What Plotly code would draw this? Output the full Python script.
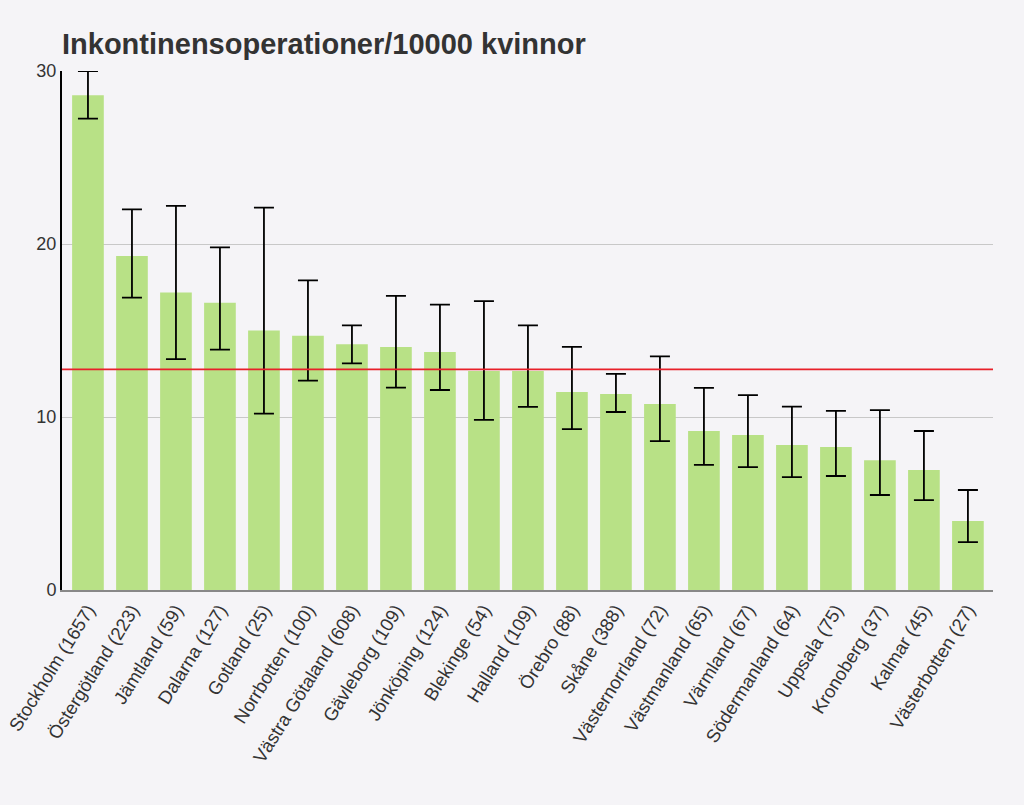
import plotly.graph_objects as go

categories = ["Stockholm (1657)", "Östergötland (223)", "Jämtland (59)", "Dalarna (127)",
              "Gotland (25)", "Norrbotten (100)", "Västra Götaland (608)", "Gävleborg (109)",
              "Jönköping (124)", "Blekinge (54)", "Halland (109)", "Örebro (88)",
              "Skåne (388)", "Västernorrland (72)", "Västmanland (65)", "Värmland (67)",
              "Södermanland (64)", "Uppsala (75)", "Kronoberg (37)", "Kalmar (45)",
              "Västerbotten (27)"]
values = [28.6, 19.3, 17.2, 16.6, 15.0, 14.7, 14.2, 14.05, 13.76, 12.66, 12.66, 11.45,
          11.33, 10.75, 9.19, 8.96, 8.38, 8.27, 7.5, 6.94, 3.99]
upper = [30.0, 22.0, 22.2, 19.8, 22.1, 17.9, 15.3, 17.0, 16.5, 16.7, 15.3, 14.05,
         12.49, 13.5, 11.68, 11.27, 10.6, 10.35, 10.4, 9.19, 5.78]
lower = [27.25, 16.9, 13.35, 13.9, 10.2, 12.1, 13.1, 11.7, 11.56, 9.83, 10.58, 9.3,
         10.29, 8.6, 7.23, 7.1, 6.53, 6.59, 5.49, 5.2, 2.77]
national_avg = 12.75

err_plus = [u - v for u, v in zip(upper, values)]
err_minus = [v - l for v, l in zip(values, lower)]

BG = "#f5f4f7"

fig = go.Figure()
fig.add_trace(go.Bar(
    x=categories, y=values,
    marker=dict(color="#b8e186", line=dict(width=0)),
    width=0.72,
    error_y=dict(type="data", symmetric=False, array=err_plus, arrayminus=err_minus,
                 color="black", thickness=1.8, width=10),
    showlegend=False,
))
fig.add_shape(type="line", xref="paper", x0=0, x1=1, yref="y", y0=national_avg, y1=national_avg,
              line=dict(color="#e8202a", width=1.6), layer="above")

fig.update_layout(
    width=1024, height=805,
    paper_bgcolor=BG, plot_bgcolor=BG,
    margin=dict(l=62, r=31, t=71, b=215, autoexpand=False),
    title=dict(text="<b>Inkontinensoperationer/10000 kvinnor</b>", x=62 / 1024, xanchor="left",
               xref="container", y=1 - 44 / 805, yanchor="middle",
               font=dict(family="Liberation Sans, Arial", size=29, color="#333333")),
    font=dict(family="Liberation Sans, Arial", size=18, color="#333333"),
)
fig.update_xaxes(tickangle=-58, showline=True, linecolor="#888888", linewidth=2,
                 range=[-0.59, 20.57], tickfont=dict(size=18.5, color="#333333"),
                 ticks="", showgrid=False, automargin=False)
fig.update_yaxes(range=[0, 30], tickvals=[0, 10, 20, 30], showgrid=True,
                 gridcolor="#c8c8c8", gridwidth=1.3, showline=True, linecolor="black",
                 linewidth=2, zeroline=False, ticks="", ticklen=0, automargin=False,
                 tickfont=dict(size=18, color="#333333"))

fig.write_html("out.html", config={"displayModeBar": False}, post_script=(
    "document.body.style.margin='0';document.body.style.background='%s';"
    "document.documentElement.style.background='%s';" % (BG, BG)))
